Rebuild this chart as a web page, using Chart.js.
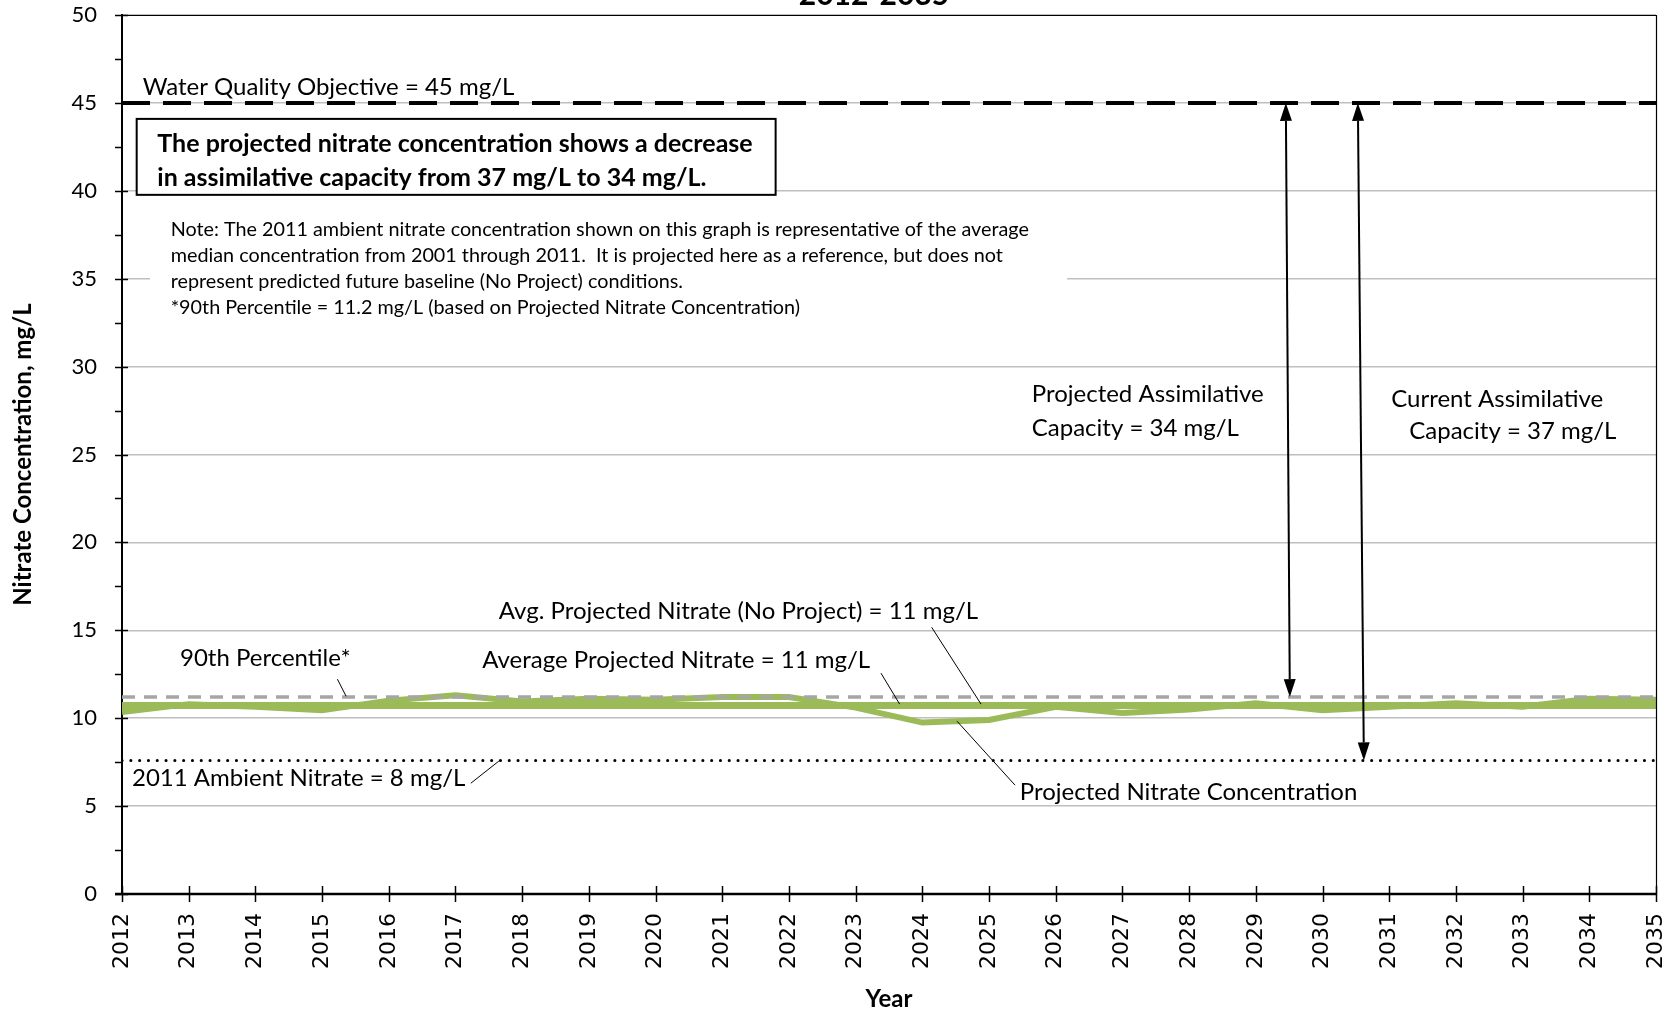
<!DOCTYPE html>
<html>
<head>
<meta charset="utf-8">
<script src="https://cdn.jsdelivr.net/npm/chart.js@4/dist/chart.umd.min.js"></script>
<style>
html,body{margin:0;padding:0;background:#ffffff;}
#wrap{width:1680px;height:1014px;position:relative;}
</style>
</head>
<body>
<div id="wrap"><canvas id="c" width="1680" height="1014"></canvas></div>
<script>
// ---- data ----
const years = [2012,2013,2014,2015,2016,2017,2018,2019,2020,2021,2022,2023,2024,2025,2026,2027,2028,2029,2030,2031,2032,2033,2034,2035];
const projectedNitrate = [10.35,10.8,10.65,10.45,11.0,11.3,10.95,11.1,11.05,11.2,11.2,10.6,9.75,9.9,10.65,10.3,10.5,10.85,10.45,10.65,10.85,10.65,11.1,11.05];
const avgProjectedNitrate = 10.7;
const avgNoProjectNitrate = 10.75;
const percentile90 = 11.2;
const waterQualityObjective = 45;
const ambientNitrate2011 = 7.6;
const yTicks = [0,5,10,15,20,25,30,35,40,45,50];
const titleText = '2012-2035';
const yTitle = 'Nitrate Concentration, mg/L';
const xTitle = 'Year';

const seriesNames = ['Projected Nitrate Concentration','Average Projected Nitrate','Avg. Projected Nitrate (No Project)','90th Percentile','Water Quality Objective','2011 Ambient Nitrate'];

function flat(v){ return [{x:years[0],y:v},{x:years[years.length-1],y:v}]; }

const GREEN = '#9bbb59';
const LABEL_FONT = '400 24px Lato';

// annotations (positions in data units)
const labels = [
  {t:'Water Quality Objective = 45 mg/L', x:2012.31, y:45.9},
  {t:'Projected Assimilative', x:2025.64, y:28.41},
  {t:'Capacity = 34 mg/L', x:2025.64, y:26.5},
  {t:'Current Assimilative', x:2031.03, y:28.14},
  {t:'Capacity = 37 mg/L', x:2031.3, y:26.32},
  {t:'Avg. Projected Nitrate (No Project) = 11 mg/L', x:2017.65, y:16.08},
  {t:'Average Projected Nitrate = 11 mg/L', x:2017.4, y:13.3},
  {t:'90th Percentile*', x:2012.87, y:13.4},
  {t:'2011 Ambient Nitrate = 8 mg/L', x:2012.15, y:6.6},
  {t:'Projected Nitrate Concentration', x:2025.46, y:5.8}
];
const leaders = [
  [2024.14,15.17,2024.88,10.8],
  [2023.38,12.56,2023.66,10.8],
  [2015.23,12.22,2015.36,11.25],
  [2017.23,6.3,2017.65,7.56],
  [2025.39,6.19,2024.52,9.83]
];
const arrows = [
  {x1:2029.45, y1:waterQualityObjective, x2:2029.51, y2:percentile90},
  {x1:2030.53, y1:waterQualityObjective, x2:2030.62, y2:ambientNitrate2011}
];
const boxLines = ['The projected nitrate concentration shows a decrease','in assimilative capacity from 37 mg/L to 34 mg/L.'];
const noteLines = [
  'Note: The 2011 ambient nitrate concentration shown on this graph is representative of the average',
  'median concentration from 2001 through 2011.  It is projected here as a reference, but does not',
  'represent predicted future baseline (No Project) conditions.',
  '*90th Percentile = 11.2 mg/L (based on Projected Nitrate Concentration)'
];

const annotPlugin = {
  id:'annot',
  beforeDatasetsDraw(chart){
    const ctx = chart.ctx, X = chart.scales.x, Y = chart.scales.y;
    const px = v => X.getPixelForValue(v), py = v => Y.getPixelForValue(v);
    ctx.save();
    // note background
    ctx.fillStyle = '#ffffff';
    ctx.fillRect(px(2012.42), py(39.15), px(2026.17)-px(2012.42), py(32.9)-py(39.15));
    // bold box
    const bx1 = px(2012.22), by1 = py(44.09), bx2 = px(2021.8), by2 = py(39.77);
    ctx.fillRect(bx1, by1, bx2-bx1, by2-by1);
    ctx.strokeStyle = '#000'; ctx.lineWidth = 2;
    ctx.strokeRect(bx1, by1, bx2-bx1, by2-by1);
    ctx.restore();
  },
  afterDatasetsDraw(chart){
    const ctx = chart.ctx, X = chart.scales.x, Y = chart.scales.y, a = chart.chartArea;
    const px = v => X.getPixelForValue(v), py = v => Y.getPixelForValue(v);
    ctx.save();
    // top & right border
    ctx.strokeStyle = '#000'; ctx.lineWidth = 1.2;
    ctx.beginPath(); ctx.moveTo(a.left, a.top+0.5); ctx.lineTo(a.right+0.5, a.top+0.5); ctx.lineTo(a.right+0.5, a.bottom); ctx.stroke();
    // y ticks
    ctx.lineWidth = 1.5;
    for (let v = 0; v <= 50; v += 2.5) {
      const y = Math.round(py(v)) + 0.5;
      const major = (v % 5 === 0);
      ctx.beginPath(); ctx.moveTo(a.left - 7, y); ctx.lineTo(a.left + (major ? 6 : 0), y); ctx.stroke();
    }
    // x ticks
    years.forEach(yr => {
      const x = Math.round(px(yr)) + 0.5;
      ctx.beginPath(); ctx.moveTo(x, a.bottom - 8); ctx.lineTo(x, a.bottom + 8); ctx.stroke();
    });
    // x axis line
    ctx.lineWidth = 2.5;
    ctx.beginPath(); ctx.moveTo(a.left-7, a.bottom); ctx.lineTo(a.right+1, a.bottom); ctx.stroke();
    // leaders
    ctx.lineWidth = 1;
    leaders.forEach(l => { ctx.beginPath(); ctx.moveTo(px(l[0]), py(l[1])); ctx.lineTo(px(l[2]), py(l[3])); ctx.stroke(); });
    // arrows
    ctx.lineWidth = 2; ctx.fillStyle = '#000';
    arrows.forEach(ar => {
      const x1 = px(ar.x1), y1 = py(ar.y1), x2 = px(ar.x2), y2 = py(ar.y2);
      const ang = Math.atan2(y2-y1, x2-x1), L = 18, W = 6;
      ctx.beginPath(); ctx.moveTo(x1 + Math.cos(ang)*L, y1 + Math.sin(ang)*L); ctx.lineTo(x2 - Math.cos(ang)*L, y2 - Math.sin(ang)*L); ctx.stroke();
      const head = (tx, ty, dir) => {
        const bx = tx + Math.cos(dir)*L, by = ty + Math.sin(dir)*L;
        const nx = -Math.sin(dir)*W, ny = Math.cos(dir)*W;
        ctx.beginPath(); ctx.moveTo(tx, ty); ctx.lineTo(bx+nx, by+ny); ctx.lineTo(bx-nx, by-ny); ctx.closePath(); ctx.fill();
      };
      head(x1, y1, ang); head(x2, y2, ang + Math.PI);
    });
    // labels
    ctx.fillStyle = '#000'; ctx.textBaseline = 'middle'; ctx.textAlign = 'left';
    ctx.font = LABEL_FONT;
    labels.forEach(l => ctx.fillText(l.t, px(l.x), py(l.y)));
    // box text
    ctx.font = '700 25px Lato';
    ctx.fillText(boxLines[0], px(2012.53), py(42.64));
    ctx.fillText(boxLines[1], px(2012.53), py(40.74));
    // note text
    ctx.font = '400 19.8px Lato';
    const ny = [37.78, 36.3, 34.86, 33.35];
    noteLines.forEach((t,i) => ctx.fillText(t, px(2012.73), py(ny[i])));
    // title (cut off at top)
    ctx.font = '700 30px Lato'; ctx.textAlign = 'center'; ctx.textBaseline = 'alphabetic';
    ctx.fillText(titleText, 874, 5);
    ctx.restore();
  }
};

const chart = new Chart(document.getElementById('c'), {
  type: 'line',
  data: {
    datasets: [
      {label: seriesNames[3], data: flat(percentile90), borderColor:'#a6a6a6', borderWidth:3.5, borderDash:[13,9], pointRadius:0, order:0},
      {label: seriesNames[0], data: years.map((y,i)=>({x:y, y:projectedNitrate[i]})), borderColor:GREEN, borderWidth:6, pointRadius:0, tension:0, order:1},
      {label: seriesNames[1], data: flat(avgProjectedNitrate), borderColor:GREEN, borderWidth:6, pointRadius:0, order:2},
      {label: seriesNames[2], data: flat(avgNoProjectNitrate), borderColor:GREEN, borderWidth:6, pointRadius:0, order:3},
      {label: seriesNames[4], data: flat(waterQualityObjective), borderColor:'#000', borderWidth:4, borderDash:[28,13], pointRadius:0, order:4},
      {label: seriesNames[5], data: flat(ambientNitrate2011), borderColor:'#000', borderWidth:3, borderDash:[0.1,8.7], borderCapStyle:'round', pointRadius:0, order:5}
    ]
  },
  options: {
    responsive:false, animation:false, devicePixelRatio:1,
    layout:{padding:{top:15, right:24, left:0, bottom:0}},
    plugins:{legend:{display:false}, tooltip:{enabled:false}, title:{display:false}},
    scales:{
      x:{
        type:'linear', min:years[0], max:years[years.length-1],
        afterBuildTicks: s => { s.ticks = years.map(v => ({value:v})); },
        afterFit: s => { s.height = 120; s.paddingLeft = 0; s.paddingRight = 0; },
        grid:{display:true, drawOnChartArea:false, tickLength:8, tickColor:'rgba(0,0,0,0)'},
        border:{display:false},
        ticks:{autoSkip:false, minRotation:90, maxRotation:90, padding:11, color:'#000', font:{family:'DejaVu Sans', size:22}, callback: v => String(v)},
        title:{display:true, text:xTitle, color:'#000', font:{family:'Lato', size:24, weight:'bold'}, padding:{top:0,bottom:0}}
      },
      y:{
        type:'linear', min:0, max:50,
        afterBuildTicks: s => { s.ticks = yTicks.map(v => ({value:v})); },
        afterFit: s => { s.width = 122; s.paddingTop = 0; s.paddingBottom = 0; },
        grid:{color:'#bfbfbf', lineWidth:1.5, tickLength:8, tickColor:'rgba(0,0,0,0)'},
        border:{display:true, color:'#000', width:2},
        ticks:{padding:17, color:'#000', font:{family:'Lato', size:22}},
        title:{display:true, text:yTitle, color:'#000', font:{family:'Lato', size:24, weight:'bold'}, padding:{top:9,bottom:0}}
      }
    }
  },
  plugins:[annotPlugin]
});
</script>
</body>
</html>
